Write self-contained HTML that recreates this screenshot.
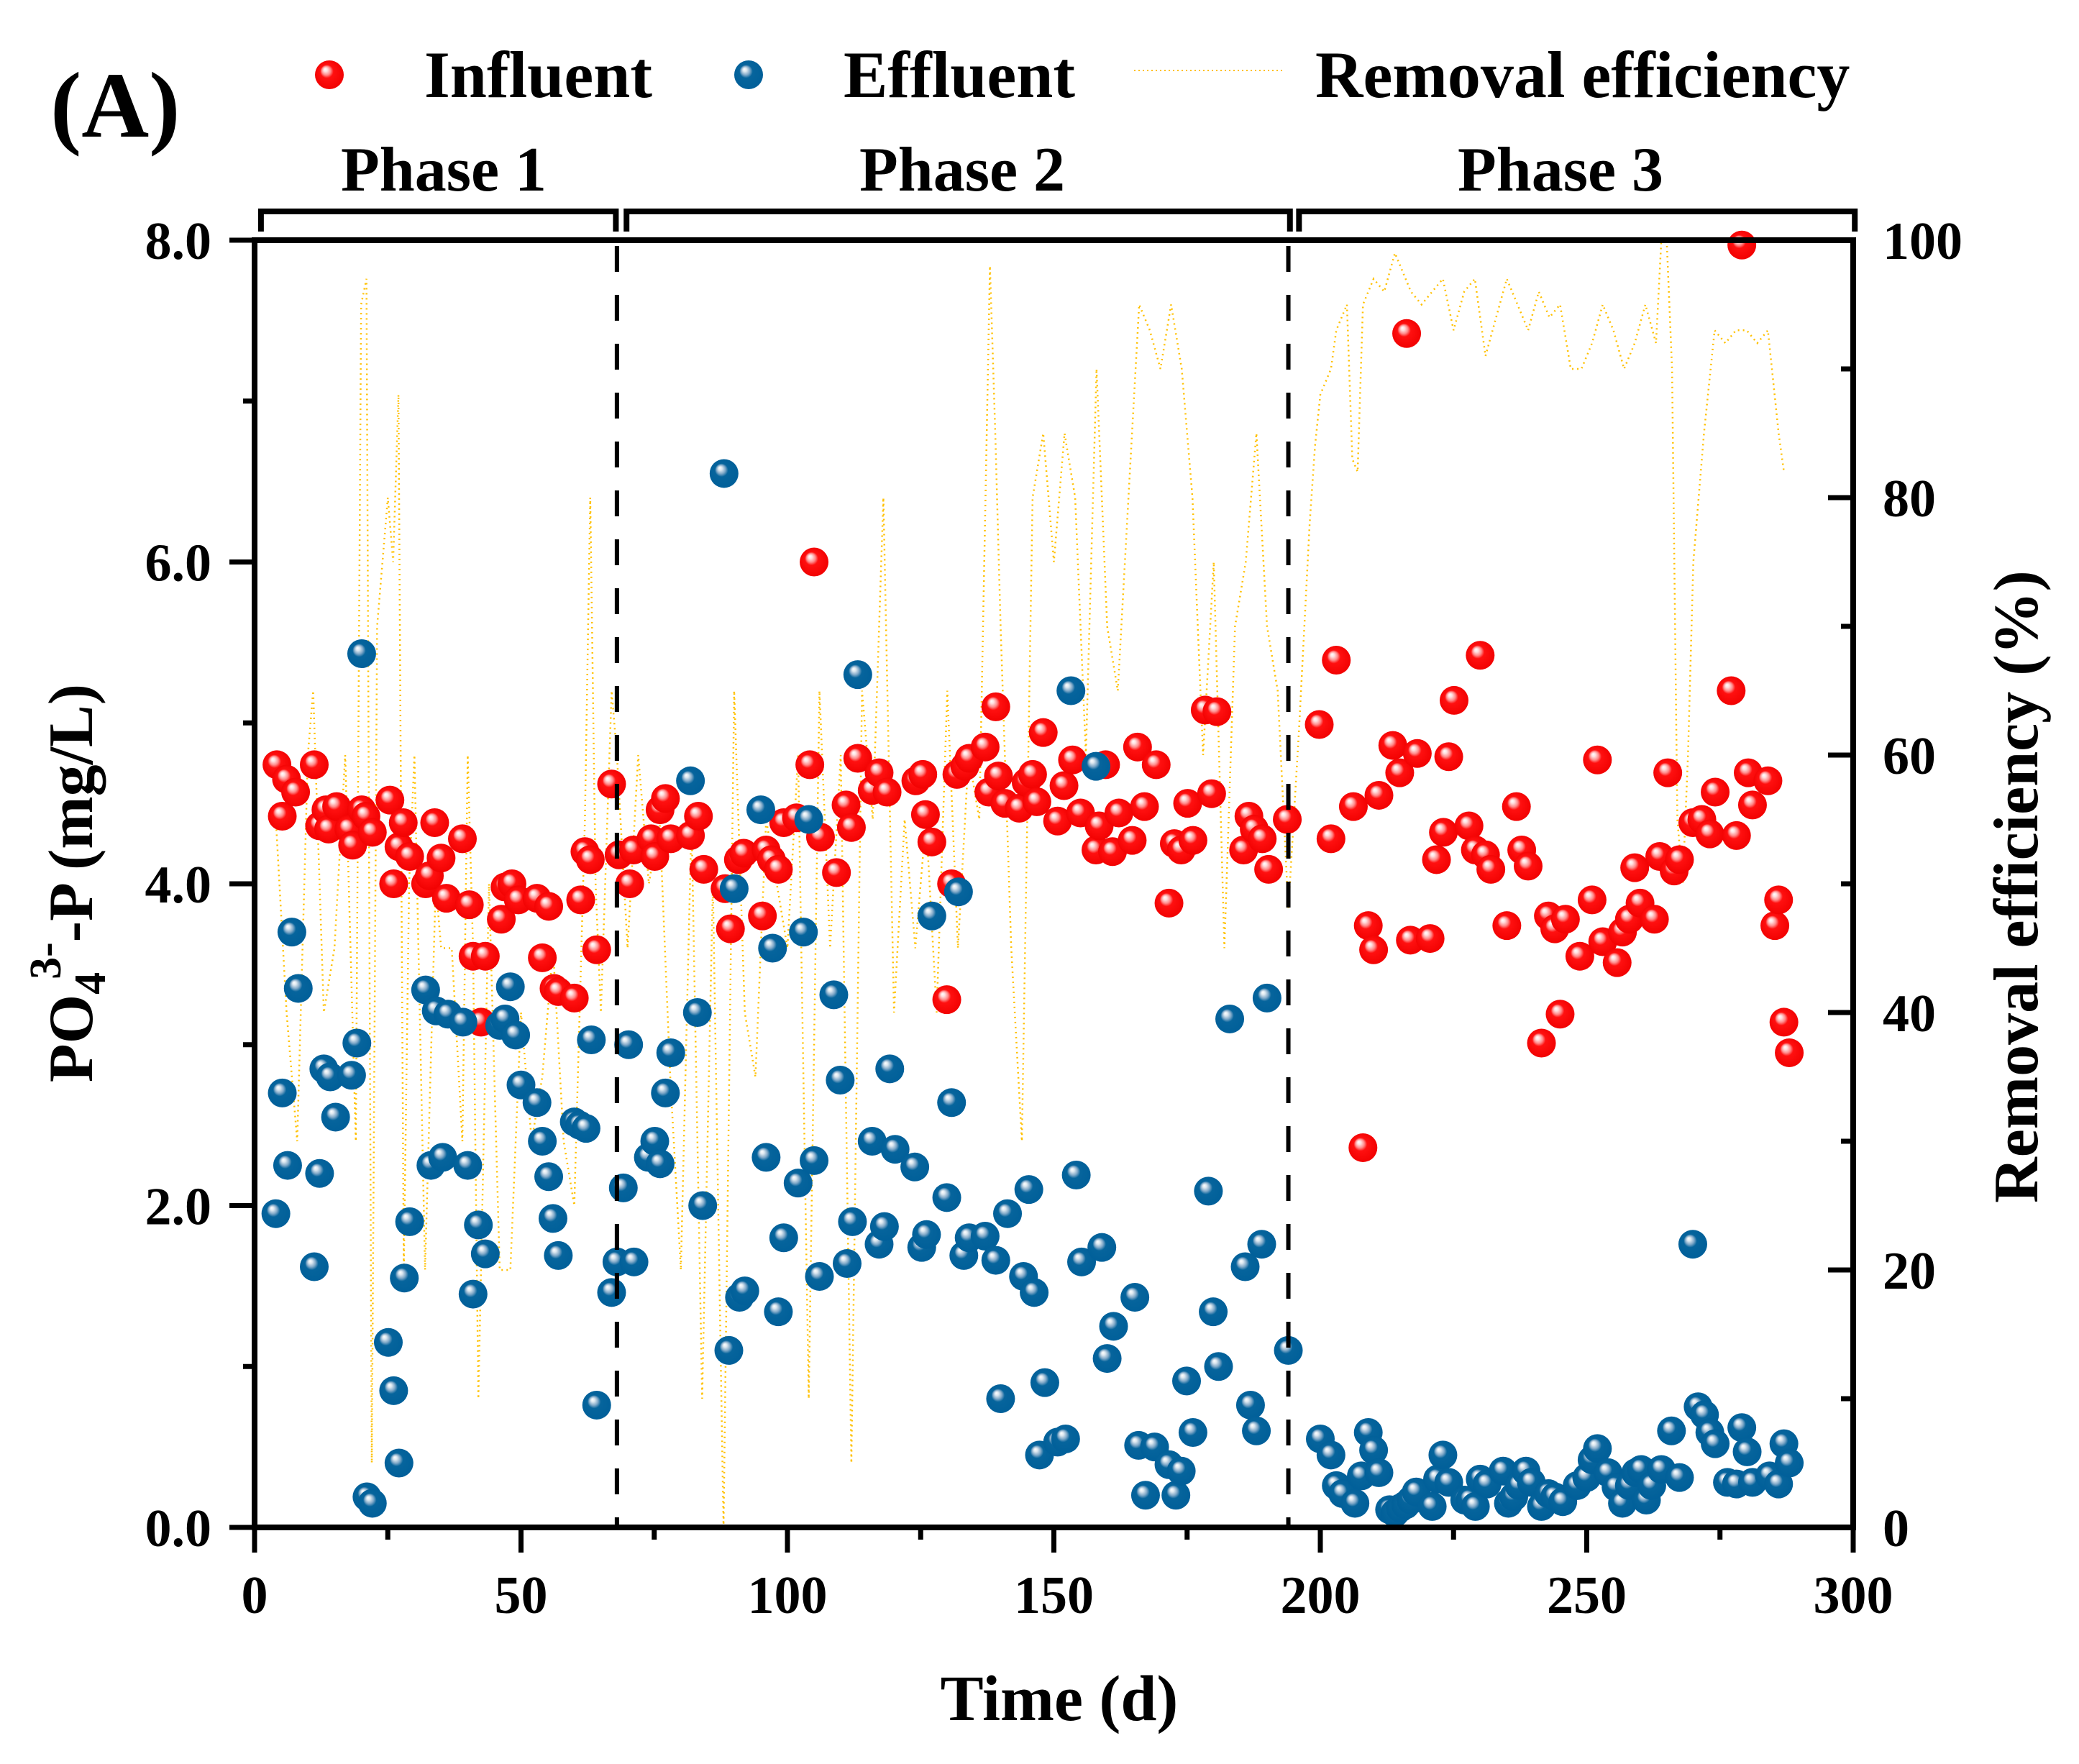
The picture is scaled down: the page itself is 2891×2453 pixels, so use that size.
<!DOCTYPE html>
<html><head><meta charset="utf-8"><style>
html,body{margin:0;padding:0;background:#fff}
svg{display:block}
text{font-family:"Liberation Serif",serif;font-weight:bold;fill:#000}
</style></head><body>
<svg id="chart" xmlns="http://www.w3.org/2000/svg" width="2891" height="2453" viewBox="0 0 2891 2453">
<defs>
<radialGradient id="gRed" cx="0.5" cy="0.5" r="0.55" fx="0.35" fy="0.3">
<stop offset="0" stop-color="#ffffff"/><stop offset="0.12" stop-color="#ffe0e0"/><stop offset="0.28" stop-color="#ff8a8a"/><stop offset="0.42" stop-color="#ff1010"/><stop offset="1" stop-color="#f00000"/></radialGradient>
<radialGradient id="gBlue" cx="0.5" cy="0.5" r="0.55" fx="0.35" fy="0.3">
<stop offset="0" stop-color="#ffffff"/><stop offset="0.12" stop-color="#dde8f0"/><stop offset="0.28" stop-color="#7fa8c8"/><stop offset="0.42" stop-color="#06649c"/><stop offset="1" stop-color="#005f99"/></radialGradient>
</defs>
<g id="eff-line"></g>
<g id="inf"></g>
<g id="effl"></g>
<g id="axes"></g>
<text x="70" y="190" font-size="130">(A)</text>
<circle cx="458" cy="104" r="20" fill="url(#gRed)"/>
<text x="590" y="135" font-size="92">Influent</text>
<circle cx="1041" cy="104" r="20" fill="url(#gBlue)"/>
<text x="1173" y="135" font-size="92">Effluent</text>
<line x1="1577" y1="98" x2="1785" y2="98" stroke="#ffc000" stroke-width="2" stroke-dasharray="2 4"/>
<text x="1829" y="135" font-size="92">Removal efficiency</text>
<text x="617" y="265" font-size="88" text-anchor="middle">Phase 1</text>
<text x="1338" y="265" font-size="88" text-anchor="middle">Phase 2</text>
<text x="2170" y="265" font-size="88" text-anchor="middle">Phase 3</text>
<text x="1473" y="2392" font-size="90" text-anchor="middle">Time (d)</text>
<text transform="translate(128,1228) rotate(-90)" font-size="88" text-anchor="middle">PO<tspan font-size="62" dy="18">4</tspan><tspan font-size="62" dy="-62" dx="-10">3-</tspan><tspan dy="44">-P (mg/L)</tspan></text>
<text transform="translate(2833,1233) rotate(-90)" font-size="88" text-anchor="middle">Removal efficiency (%)</text>
</svg>
<script>
const infDays=[4.2,5.2,6,7.7,11.2,12.2,13.4,13.9,15.4,17.7,18.4,20.1,20.9,22.1,25.4,26.1,27.1,27.9,29.1,32.1,32.8,33.8,35,36,39,40.3,41,42.5,43.3,46.3,47,48.3,49.5,53,54,55.2,56.2,57,60,61.2,62,63,64.2,67,68.4,70.4,71.1,74.4,75.1,76.1,77.1,78.1,81.8,83.3,84.3,88.3,89.3,90.8,91.8,95.3,96,97,98.3,99.3,101.7,104.2,105,106.2,109.2,111,112,113.2,115.9,117.2,118.7,124.1,125.4,125.9,127.1,129.9,130.8,131.8,133.3,134.1,137.1,139.1,137.8,139.6,140.8,143.5,144.8,146,146.8,148,150.7,151.9,153.5,155,157.9,158.5,159.7,161,162.2,164.7,165.7,167,169.2,171.6,172.6,173.9,175.1,176.1,178.4,180.6,179.6,185.6,186.6,187.6,189.1,190.3,193.8,199.8,203,202,206.2,208,209,210,211,213.6,214.9,216.2,216.9,218.2,220.6,221.8,223.1,224.1,225.1,227.9,229.1,230,231,232,235,236.8,237.8,239,241.5,242.8,244,245,246,248.7,251,252,253,255.7,256.7,258,259,260,262.7,263.7,265.2,266.4,267.4,269.9,271.6,273.1,274.1,277.1,278.1,279.1,280.3,281.1,284,285.3,286,287,288];
const infVals=[4.74,4.42,4.65,4.57,4.74,4.36,4.46,4.34,4.48,4.34,4.24,4.46,4.42,4.32,4.52,4.0,4.23,4.38,4.17,4.0,4.05,4.38,4.16,3.91,4.28,3.87,3.55,3.14,3.55,3.78,3.98,4.0,3.9,3.91,3.54,3.86,3.35,3.33,3.29,3.9,4.2,4.15,3.59,4.62,4.18,4.0,4.21,4.28,4.17,4.46,4.53,4.28,4.3,4.42,4.09,3.97,3.72,4.15,4.19,3.8,4.21,4.15,4.09,4.38,4.41,4.74,6.0,4.29,4.07,4.49,4.35,4.78,4.58,4.69,4.57,4.64,4.68,4.43,4.26,3.28,4.0,4.68,4.73,4.78,4.85,5.1,4.57,4.67,4.5,4.47,4.63,4.68,4.51,4.94,4.39,4.61,4.77,4.44,4.21,4.36,4.74,4.2,4.44,4.27,4.85,4.48,4.74,3.88,4.25,4.21,4.5,4.27,5.08,5.07,4.56,4.21,4.42,4.34,4.28,4.09,4.4,4.99,5.39,4.28,4.48,2.36,3.74,3.59,4.55,4.86,4.69,7.42,3.65,4.81,3.66,4.15,4.32,4.79,5.14,4.36,4.21,5.42,4.18,4.09,3.74,4.48,4.21,4.11,3.01,3.8,3.72,3.19,3.78,3.55,3.9,4.77,3.64,3.51,3.7,3.78,4.1,3.88,3.78,4.17,4.69,4.08,4.15,4.38,4.4,4.31,4.57,5.2,4.3,7.97,4.69,4.49,4.64,3.74,3.9,3.14,2.95];
const effDays=[4,5.2,6.2,7,8.2,11.2,12.2,13,14.2,15.2,18.2,19.2,20.1,21.1,22.1,25.1,26.1,27.1,28.1,29.1,32.1,33.1,34.1,35.3,36.3,39.1,40,41,42,43.3,46,47,48,49,50,53,54,55.2,56,57,60,61,62.2,63.2,64.2,67,68,69.2,70.2,71.2,73.9,75.1,76.1,77.1,78.1,81.8,83.1,84.1,88.1,89,90,91,92,95,96,97.2,98.3,99.3,102,103,104,105,106,108.7,109.9,111.2,112.2,113.2,115.9,117.2,118.2,119.2,120.2,123.9,125.2,126.1,127.1,129.9,130.8,132.1,133.1,134.1,137.1,139.1,140,141.3,144.3,145.3,146.3,147.3,148.3,150.7,152.2,153.2,154.2,155.2,157.9,159,160,161.2,165.2,165.9,167.2,168.9,171.6,172.9,173.9,174.9,176.1,179,179.9,180.9,183,185.9,186.9,188,189,190,194,200,202,203,204.2,206.5,207.7,209,210,211,213,214,215,216,217,218,221,222,223,224.1,227.1,228.1,229.1,230,231.3,234.3,235.3,236.3,237.3,238.6,239.6,241.5,242.8,244,245.5,248.2,250,251,252,254,255.5,256.7,258,259.2,260.2,261.2,262.2,264,265.9,267.4,269.9,270.9,272.1,273.1,274.1,276.4,278.1,279.1,280.1,281.1,284.3,286,287,288];
const effVals=[1.95,2.7,2.25,3.7,3.35,1.62,2.2,2.85,2.8,2.55,2.81,3.01,5.43,0.19,0.15,1.15,0.85,0.4,1.55,1.9,3.34,2.25,3.21,2.3,3.19,3.14,2.25,1.45,1.88,1.7,3.12,3.16,3.36,3.06,2.75,2.64,2.4,2.18,1.92,1.69,2.52,2.5,2.48,3.03,0.76,1.46,1.65,2.11,3.0,1.65,2.3,2.4,2.26,2.7,2.95,4.64,3.2,2.0,6.55,1.1,3.97,1.43,1.47,4.46,2.3,3.6,1.34,1.8,2.14,3.7,4.4,2.28,1.56,3.31,2.78,1.64,1.9,5.3,2.4,1.76,1.87,2.85,2.35,2.24,1.74,1.82,3.8,2.05,2.64,3.95,1.69,1.8,1.81,1.66,0.8,1.95,1.56,2.1,1.46,0.45,0.9,0.53,0.55,5.2,2.19,1.65,4.73,1.74,1.05,1.25,1.43,0.51,0.2,0.5,0.39,0.2,0.35,0.91,0.59,2.09,1.34,1.0,3.16,1.62,0.76,0.6,1.76,3.29,1.1,0.55,0.45,0.26,0.21,0.15,0.32,0.59,0.48,0.34,0.11,0.09,0.12,0.14,0.17,0.22,0.13,0.3,0.45,0.28,0.17,0.17,0.13,0.3,0.27,0.35,0.15,0.19,0.26,0.35,0.28,0.13,0.21,0.19,0.16,0.26,0.31,0.42,0.49,0.34,0.25,0.15,0.26,0.34,0.36,0.17,0.26,0.36,0.6,0.31,1.76,0.75,0.7,0.59,0.52,0.28,0.27,0.62,0.47,0.28,0.32,0.27,0.52,0.4];
const reDays=[4,6,8,10,11,13,15,17,19,20,21,22,23,25,26,27,28,29,30,32,34,35,37,39,40,41,42,44,46,48,50,52,54,56,58,60,62,63,64,65,67,68,70,72,74,76,78,80,82,84,86,88,90,92,94,96,98,100,102,104,106,108,110,112,114,116,118,120,122,124,126,128,130,132,134,136,138,139,140,142,144,146,148,150,152,154,156,158,160,162,164,166,168,170,172,174,176,178,180,182,184,186,188,190,192,194,195,196,197,198,199,200,202,203,205,206,207,208,210,212,214,215,217,219,221,223,225,227,229,231,233,235,237,239,241,243,245,247,249,251,253,255,257,259,261,263,264,265,266,267,268,269,270,272,274,276,278,280,282,284,286,287];
const reVals=[55,40,30,60,65,40,45,60,30,95,97,5,70,80,75,88,20,50,60,20,50,45,45,30,60,45,10,50,20,20,40,30,35,45,30,25,55,80,50,40,65,60,45,60,50,55,35,20,55,10,50,0,65,40,35,55,50,45,60,10,65,45,60,5,65,55,80,40,55,45,55,40,65,45,60,55,98,85,70,45,30,80,85,75,85,80,60,90,70,65,80,95,93,90,95,90,80,60,75,45,70,75,85,70,65,48,55,62,70,78,84,88,90,93,95,83,82,95,97,96,99,98,96,95,96,97,93,96,97,91,94,97,95,93,96,94,95,90,90,92,95,93,90,92,95,92,100,100,90,55,50,60,75,85,93,92,93,93,92,93,85,82];
const yTicks=["0.0","2.0","4.0","6.0","8.0"];
const y2Ticks=["0","20","40","60","80","100"];
const xTicks=["0","50","100","150","200","250","300"];

const NS="http://www.w3.org/2000/svg";
const L=354,R=2577,T=334,B=2124;
const X=d=>L+(R-L)*d/300, Y=v=>B-(B-T)*v/8, Y2=p=>B-(B-T)*p/100;
function mk(tag,attrs,parent){const e=document.createElementNS(NS,tag);for(const k in attrs)e.setAttribute(k,attrs[k]);parent.appendChild(e);return e;}
const ax=document.getElementById('axes');
let d="";reDays.forEach((x,i)=>{d+=(i?"L":"M")+X(x).toFixed(1)+" "+Y2(reVals[i]).toFixed(1);});
const pl=mk('path',{d:d,fill:"none",stroke:"#ffc000","stroke-width":"2.5","stroke-dasharray":"2 5"},document.getElementById('eff-line'));


const gi=document.getElementById('inf');
infDays.forEach((x,i)=>{const c=mk('circle',{cx:X(x),cy:Y(infVals[i]),r:20,fill:"url(#gRed)"},gi);

});
const ge=document.getElementById('effl');
effDays.forEach((x,i)=>{const c=mk('circle',{cx:X(x),cy:Y(effVals[i]),r:20,fill:"url(#gBlue)"},ge);

});
[68,194].forEach(p=>{const l=mk('line',{x1:X(p),y1:T+8,x2:X(p),y2:B,stroke:"#000","stroke-width":6,"stroke-dasharray":"36 32"},ax);

});
const fr=mk('rect',{x:L,y:T,width:R-L,height:B-T,fill:"none",stroke:"#000","stroke-width":8},ax);


for(let v=0;v<=8;v++){const maj=v%2===0;const l=mk('line',{x1:L-(maj?35:16),y1:Y(v),x2:L,y2:Y(v),stroke:"#000","stroke-width":7},ax);

}
yTicks.forEach((t,i)=>{const e=mk('text',{x:294,y:Y(i*2)+26,"font-size":74,"text-anchor":"end"},ax);e.textContent=t;

});
for(let p=0;p<=100;p+=10){const maj=p%20===0;const l=mk('line',{x1:R-(maj?35:17),y1:Y2(p),x2:R,y2:Y2(p),stroke:"#000","stroke-width":7},ax);

}
y2Ticks.forEach((t,i)=>{const e=mk('text',{x:2618,y:Y2(i*20)+26,"font-size":74},ax);e.textContent=t;

});
for(let x=0;x<=300;x+=25){const maj=x%50===0;const l=mk('line',{x1:X(x),y1:B,x2:X(x),y2:B+(maj?35:17),stroke:"#000","stroke-width":7},ax);

}
xTicks.forEach((t,i)=>{const e=mk('text',{x:X(i*50),y:2243,"font-size":74,"text-anchor":"middle"},ax);e.textContent=t;

});
[[1.2,67.8],[69.8,194.3],[196,300.3]].forEach(([a,b])=>{const x1=X(a),x2=X(b);
const p=mk('path',{d:`M${x1} 322 L${x1} 294 L${x2} 294 L${x2} 322`,fill:"none",stroke:"#000","stroke-width":8},ax);

});
</script>
</body></html>
